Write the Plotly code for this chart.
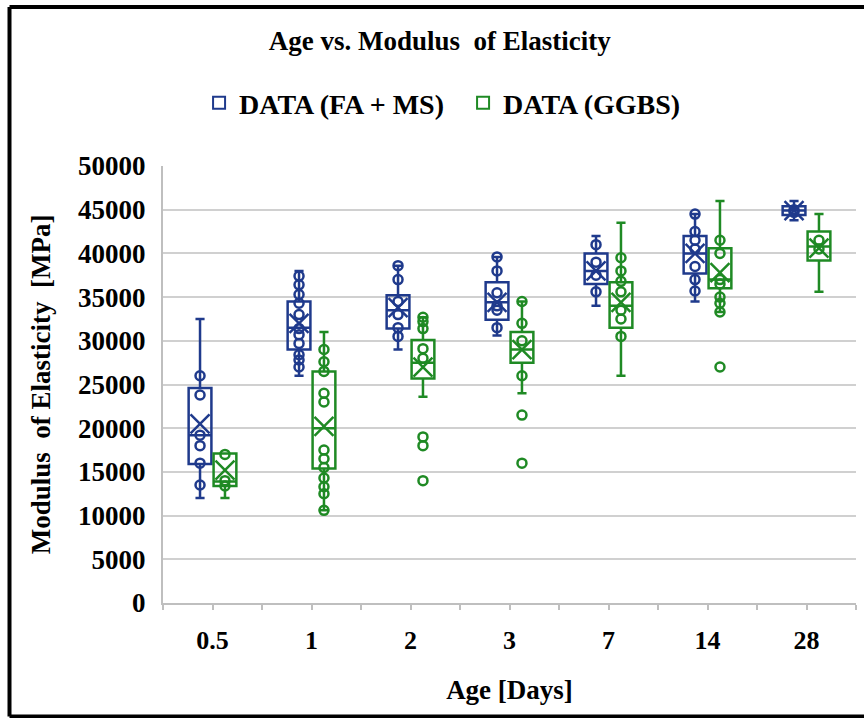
import plotly.graph_objects as go

# Curing age categories
categories = ["0.5", "1", "2", "3", "7", "14", "28"]

# DATA (FA + MS): box statistics per age (MPa)
fa_min = [12000, 26000, 29000, 30600, 34000, 34500, 43800]
fa_q1 = [15900, 29000, 31400, 32400, 36500, 37700, 44400]
fa_median = [19200, 31500, 33500, 34400, 38000, 40000, 44900]
fa_q3 = [24600, 34500, 35200, 36700, 40000, 42000, 45400]
fa_max = [32500, 38000, 38600, 39600, 42000, 44500, 46000]
fa_mean = [20500, 32000, 33800, 34400, 38000, 40000, 44900]
fa_points = [
    [26000, 23800, 19200, 18000, 16000, 13500],
    [37400, 36400, 35300, 34300, 33000, 31400, 30700, 29700, 28400, 27800, 27000],
    [38600, 37000, 34500, 33000, 31500, 30500],
    [39600, 38000, 35500, 34000, 33500, 31500],
    [41000, 39000, 37500, 35600],
    [44500, 42500, 41500, 40500, 38500, 37000, 35700],
    [45000, 44700],
]

# DATA (GGBS): box statistics per age (MPa)
gg_min = [12000, 10600, 23600, 24000, 26000, 33300, 35600]
gg_q1 = [13400, 15400, 25700, 27500, 31500, 36000, 39200]
gg_median = [13900, 20000, 27500, 29000, 34000, 37000, 40800]
gg_q3 = [17100, 26500, 30100, 31000, 36700, 40600, 42500]
gg_max = [17100, 31000, 32700, 34500, 43500, 46000, 44500]
gg_mean = [15200, 20200, 27000, 29000, 34400, 37800, 40600]
gg_points = [
    [17000, 14000, 13400],
    [29000, 27600, 26500, 24000, 23000, 17500, 16500, 15500, 14300, 13300, 12500, 10600],
    [32700, 32200, 31400, 29100, 28000, 19000, 18000, 14000],
    [34500, 32000, 30000, 26000, 21500, 16000],
    [39500, 38000, 36800, 35600, 33500, 32500, 30500],
    [41500, 40000, 37000, 36500, 35000, 34300, 33300, 27000],
    [41500, 40500],
]

BLUE = "#1f3a8c"
GREEN = "#1f8a24"
FONT = "Liberation Serif"
OFFSET = 0.126
BOX_W = 0.23

fig = go.Figure()


def add_series(name, color, shift, q1, med, q3, lo, hi, mean, pts):
    pos = [i + shift for i in range(len(categories))]
    fig.add_trace(go.Box(
        name=name, x=pos, q1=q1, median=med, q3=q3,
        lowerfence=lo, upperfence=hi,
        width=BOX_W, whiskerwidth=0.4, boxpoints=False,
        fillcolor="rgba(255,255,255,0)",
        line=dict(color=color, width=2.5),
        showlegend=True,
    ))
    px, py = [], []
    for p, vals in zip(pos, pts):
        px += [p] * len(vals)
        py += vals
    fig.add_trace(go.Scatter(
        x=px, y=py, mode="markers", showlegend=False, hoverinfo="y",
        marker=dict(symbol="circle-open", size=9, color=color,
                    line=dict(color=color, width=2.5)),
    ))
    fig.add_trace(go.Scatter(
        x=pos, y=mean, mode="markers", showlegend=False, hoverinfo="y",
        marker=dict(symbol="x-thin", size=19, color=color,
                    line=dict(color=color, width=2.5)),
    ))


add_series("DATA (FA + MS)", BLUE, -OFFSET, fa_q1, fa_median, fa_q3,
           fa_min, fa_max, fa_mean, fa_points)
add_series("DATA (GGBS)", GREEN, OFFSET, gg_q1, gg_median, gg_q3,
           gg_min, gg_max, gg_mean, gg_points)

# black frame around the chart (left, top, bottom edges)
frame = dict(type="line", xref="paper", yref="paper",
             line=dict(color="black", width=4), layer="above")
fig.add_shape(frame, x0=-0.2215, x1=-0.2215, y0=-0.2597, y1=1.3638)
fig.add_shape(frame, x0=-0.2215, x1=1.02, y0=1.3638, y1=1.3638)
fig.add_shape(frame, x0=-0.2215, x1=1.02, y0=-0.2597, y1=-0.2597)

fig.update_layout(
    width=864, height=718,
    margin=dict(l=163, r=8, t=166, b=115),
    plot_bgcolor="white", paper_bgcolor="white",
    font=dict(family=FONT, color="black"),
    title=dict(text="Age vs. Modulus\u00a0 of Elasticity", x=0.509, xanchor="center",
               y=0.944, yanchor="middle",
               font=dict(family=FONT, size=27, weight="bold", color="black")),
    legend=dict(orientation="h", x=0.433, xanchor="center", y=1.144, yanchor="middle",
                font=dict(family=FONT, size=28, weight="bold", color="black"),
                entrywidth=219, entrywidthmode="pixels",
                itemsizing="constant", bgcolor="rgba(0,0,0,0)"),
    xaxis=dict(
        range=[-0.5, 6.5], tickmode="array", tickvals=list(range(len(categories))),
        ticktext=categories, ticks="outside", ticklen=5, tickwidth=2, tickcolor="#bfbfbf",
        minor=dict(tickmode="linear", tick0=-0.5, dtick=1, ticks="outside", ticklen=5,
                   tickwidth=2, tickcolor="#bfbfbf", showgrid=False),
        showline=True, linecolor="#bfbfbf", linewidth=2, showgrid=False, zeroline=False,
        tickfont=dict(family=FONT, size=26, weight="bold", color="black"),
        ticklabelstandoff=8,
        title=dict(text="Age [Days]", standoff=26,
                   font=dict(family=FONT, size=27, weight="bold", color="black")),
    ),
    yaxis=dict(
        range=[0, 50000], tickmode="linear", tick0=0, dtick=5000, tickformat="d",
        showgrid=True, gridcolor="#d0d0d0", gridwidth=2,
        showline=True, linecolor="#bfbfbf", linewidth=2, zeroline=False,
        ticks="", ticklabelstandoff=10,
        tickfont=dict(family=FONT, size=27, weight="bold", color="black"),
        title=dict(text="Modulus\u00a0 of Elasticity\u00a0 [MPa]", standoff=20,
                   font=dict(family=FONT, size=27, weight="bold", color="black")),
    ),
)

fig.write_html("out.html")
